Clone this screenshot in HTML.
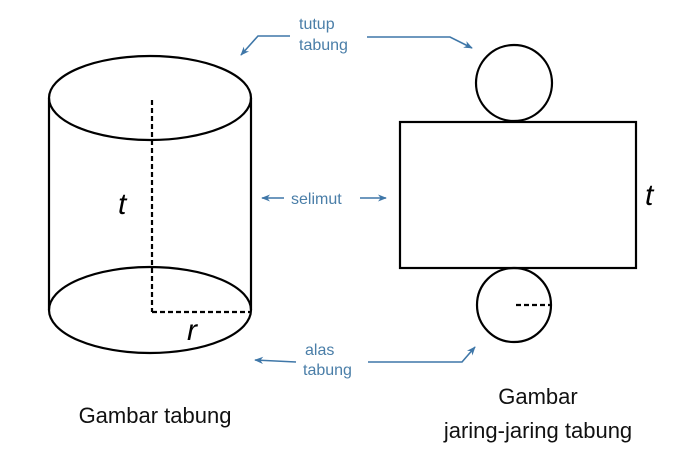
<!DOCTYPE html>
<html><head><meta charset="utf-8"><style>
html,body{margin:0;padding:0;background:#fff}
svg{display:block}
</style></head><body>
<svg width="700" height="466" viewBox="0 0 700 466" xmlns="http://www.w3.org/2000/svg">
<defs>
<marker id="a" viewBox="0 0 10 10" refX="9" refY="5" markerWidth="9" markerHeight="9" markerUnits="userSpaceOnUse" orient="auto"><path d="M0,1 L10,5 L0,9 L3,5 z" fill="#3f77a8"/></marker>
</defs>
<g fill="none" stroke="#000" stroke-width="2.2">
<ellipse cx="150" cy="98" rx="101" ry="42"/>
<line x1="49" y1="98" x2="49" y2="310"/>
<line x1="251" y1="98" x2="251" y2="310"/>
<path d="M49,310 A101,43 0 0 1 251,310"/>
<path d="M49,310 A101,43 0 0 0 251,310"/>
<line x1="152" y1="100" x2="152" y2="312" stroke-dasharray="5,3"/>
<line x1="152" y1="312" x2="250" y2="312" stroke-dasharray="5,3"/>
<rect x="400" y="122" width="236" height="146"/>
<circle cx="514" cy="83" r="38"/>
<circle cx="514" cy="305" r="37"/>
<line x1="516" y1="305" x2="550" y2="305" stroke-dasharray="5,3"/>
</g>
<g font-family="Liberation Sans, sans-serif" font-style="italic" font-size="30" fill="#000">
<text x="118" y="214">t</text>
<text x="187" y="340">r</text>
<text x="645" y="205">t</text>
</g>
<g fill="none" stroke="#3f77a8" stroke-width="1.6">
<path d="M290,36 L258,36 L241,55" marker-end="url(#a)"/>
<path d="M367,37 L450,37 L472,48" marker-end="url(#a)"/>
<path d="M284,198 L262,198" marker-end="url(#a)"/>
<path d="M360,198 L386,198" marker-end="url(#a)"/>
<path d="M296,362 L255,360" marker-end="url(#a)"/>
<path d="M368,362 L462,362 L475,347" marker-end="url(#a)"/>
</g>
<g font-family="Liberation Sans, sans-serif" font-size="16" fill="#4a7ea8">
<text x="299" y="29">tutup</text>
<text x="299" y="50">tabung</text>
<text x="291" y="204">selimut</text>
<text x="305" y="355">alas</text>
<text x="303" y="375">tabung</text>
</g>
<g font-family="Liberation Sans, sans-serif" font-size="22" fill="#111" text-anchor="middle">
<text x="155" y="423">Gambar tabung</text>
<text x="538" y="404">Gambar</text>
<text x="538" y="438">jaring-jaring tabung</text>
</g>
</svg>
</body></html>
